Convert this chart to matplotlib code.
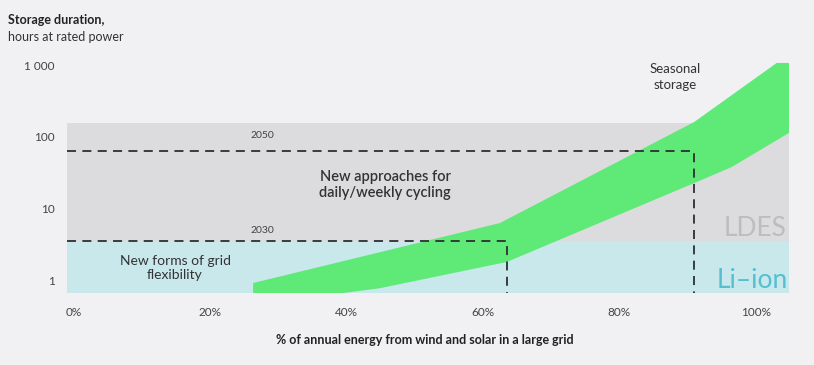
import matplotlib
matplotlib.use("Agg")
import matplotlib.pyplot as plt
from matplotlib.ticker import FixedLocator, NullLocator

plt.rcParams['font.family'] = ['Lato', 'DejaVu Sans']

# data
x_ticks = [0, 20, 40, 60, 80, 100]
x_tick_labels = ["0%", "20%", "40%", "60%", "80%", "100%"]
y_ticks = [1, 10, 100, 1000]
y_tick_labels = ["1", "10", "100", "1 000"]

# green band (share of wind+solar %, hours)
upper_x = [26.3, 62.5, 91.0, 103.1, 104.9]
upper_y = [0.91, 6.27, 162, 1083, 1083]
lower_x = [26.3, 44.9, 63.5, 91.0, 96.5, 104.9]
lower_y = [0.45, 0.77, 1.79, 22.7, 38, 114]

li_ion_range = (0.66, 3.5)
ldes_range = (3.5, 157)

year_2030 = (63.6, 3.5)   # (share, hours)
year_2050 = (91.0, 64)

BG = "#f1f1f3"
GREY = "#dcdbdd"
TEAL = "#c8e8ec"
GREEN = "#5fea78"

fig = plt.figure(figsize=(8.14, 3.65), dpi=100, facecolor=BG)
ax = fig.add_axes([67/814, 72/365, 722/814, 233/365])
ax.set_facecolor(BG)
ax.set_yscale("log")
ax.set_xlim(-1, 104.9)
ax.set_ylim(0.66, 1190)

ax.axhspan(*li_ion_range, color=TEAL, lw=0, zorder=1)
ax.axhspan(*ldes_range, color=GREY, lw=0, zorder=1)

poly_x = upper_x + lower_x[::-1]
poly_y = upper_y + lower_y[::-1]
ax.fill(poly_x, poly_y, color=GREEN, lw=0, zorder=2)

for (xv, yv) in (year_2030, year_2050):
    ax.plot([-1, xv, xv], [yv, yv, 0.66], color="#2e2e33", lw=1.3,
            dashes=(5, 3.5), zorder=3, clip_on=False)

for s in ax.spines.values():
    s.set_visible(False)

ax.xaxis.set_major_locator(FixedLocator(x_ticks))
ax.set_xticklabels(x_tick_labels)
ax.yaxis.set_major_locator(FixedLocator(y_ticks))
ax.yaxis.set_minor_locator(NullLocator())
ax.set_yticklabels(y_tick_labels)
ax.tick_params(length=0, labelsize=8.5, colors="#444444")
ax.tick_params(axis="x", pad=10)
ax.tick_params(axis="y", pad=9)

def px(x, y):
    return x / 814, 1 - y / 365

fig.text(*px(8, 20), "Storage duration,", fontsize=9, fontweight="bold",
         color="#222222", va="center")
fig.text(*px(8, 37), "hours at rated power", fontsize=9, color="#333333",
         va="center")

fig.text(*px(175, 268), "New forms of grid\nflexibility", fontsize=10,
         color="#333333", ha="center", va="center", linespacing=1.25)
fig.text(*px(385, 185), "New approaches for\ndaily/weekly cycling", fontsize=10.5,
         fontweight="semibold", color="#333333", ha="center", va="center",
         linespacing=1.25)
fig.text(*px(675, 77), "Seasonal\nstorage", fontsize=9.5, color="#333333",
         ha="center", va="center", linespacing=1.35)
fig.text(*px(262, 136), "2050", fontsize=7.5, color="#444444", ha="center",
         va="center")
fig.text(*px(262, 231), "2030", fontsize=7.5, color="#444444", ha="center",
         va="center")
fig.text(*px(786, 229), "LDES", fontsize=19, color="#bdbdbd", ha="right",
         va="center")
fig.text(*px(788, 280), "Li\u2013ion", fontsize=19, color="#55bfcf", ha="right",
         va="center")

fig.text(*px(425, 340), "% of annual energy from wind and solar in a large grid",
         fontsize=9, fontweight="bold", color="#222222", ha="center", va="center")

fig.savefig("out.png", dpi=100, facecolor=BG)
